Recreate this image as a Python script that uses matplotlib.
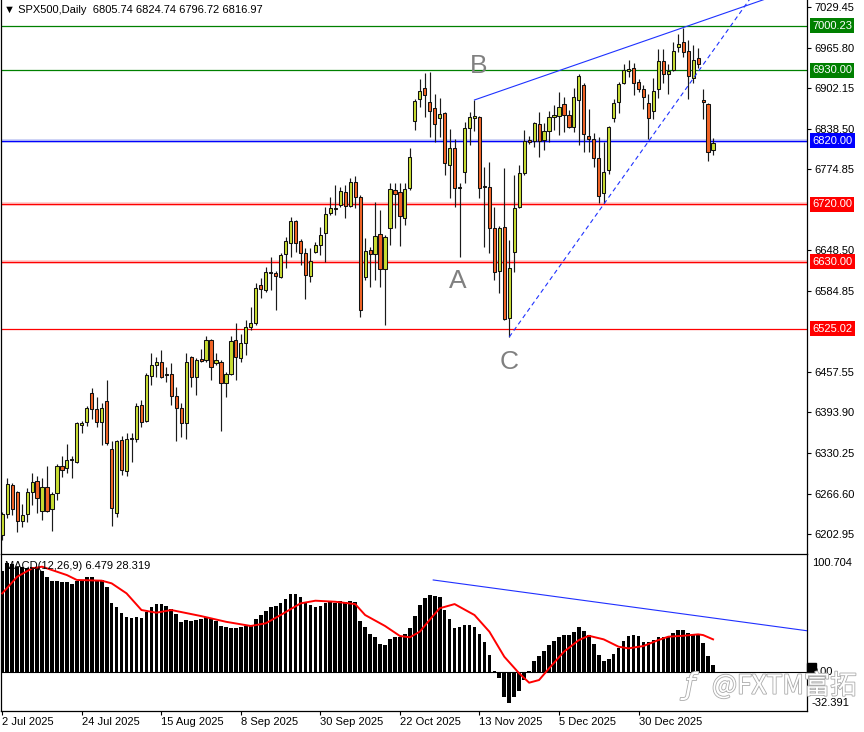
import matplotlib
matplotlib.use("Agg")
import matplotlib.pyplot as plt
import matplotlib.patheffects as pe
from matplotlib.patches import Rectangle
from matplotlib.transforms import blended_transform_factory
import numpy as np

# ---------------- data ----------------
opens = [6201.8, 6234.7, 6280.2, 6269.2, 6223.7, 6234.7, 6269.2, 6286.4, 6239.4, 6277.0,
         6242.5, 6267.6, 6309.9, 6306.8, 6319.4, 6316.2, 6374.2, 6378.9, 6424.4, 6399.3,
         6378.9, 6411.8, 6336.6, 6236.3, 6350.7, 6302.1, 6352.3, 6352.3, 6405.6, 6380.5,
         6451.0, 6468.3, 6473.0, 6452.6, 6454.1, 6419.7, 6400.9, 6377.4, 6480.8, 6449.5,
         6477.7, 6476.1, 6507.5, 6471.4, 6473.0, 6440.1, 6454.1, 6507.5, 6479.2, 6502.8,
         6527.8, 6534.1, 6593.7, 6585.8, 6614.0, 6612.5, 6606.2, 6642.3, 6659.5, 6694.0,
         6662.6, 6643.8, 6607.8, 6645.4, 6656.4, 6675.2, 6706.5, 6714.4, 6719.1, 6739.4,
         6717.5, 6755.1, 6731.6, 6606.2, 6648.5, 6642.3, 6673.6, 6618.7, 6683.0, 6742.6,
         6739.4, 6698.7, 6745.7, 6850.7, 6885.2, 6902.5, 6880.5, 6871.1, 6855.4, 6863.3,
         6781.8, 6808.4, 6745.7, 6770.8, 6839.8, 6855.4, 6857.0, 6747.3, 6747.3, 6683.0,
         6615.6, 6684.6, 6541.9, 6645.4, 6715.9, 6769.2, 6821.0, 6819.4, 6846.0, 6821.0,
         6835.1, 6857.0, 6858.6, 6877.4, 6860.1, 6841.3, 6883.7, 6907.2, 6827.2, 6822.5,
         6792.7, 6737.9, 6773.9, 6855.4, 6880.5, 6910.3, 6929.1, 6933.8, 6911.9, 6900.9,
         6879.0, 6866.4, 6900.9, 6944.8, 6924.4, 6930.7, 6966.7, 6974.6, 6960.5, 6918.1,
         6949.5, 6883.7, 6877.4, 6805.74]
highs = [6237.8, 6291.1, 6283.3, 6270.8, 6250.4, 6275.5, 6299.0, 6294.3, 6291.1, 6309.9,
         6269.2, 6313.1, 6325.6, 6344.4, 6325.6, 6378.9, 6380.5, 6404.0, 6432.2, 6418.1,
         6408.7, 6444.8, 6349.1, 6350.7, 6357.0, 6361.7, 6361.7, 6408.7, 6413.4, 6455.7,
         6487.1, 6480.8, 6491.8, 6465.1, 6471.4, 6433.8, 6408.7, 6487.1, 6482.4, 6479.2,
         6493.3, 6513.7, 6509.0, 6487.1, 6476.1, 6457.3, 6513.7, 6534.1, 6516.9, 6538.8,
         6559.2, 6596.8, 6604.6, 6621.9, 6637.6, 6615.6, 6643.8, 6668.9, 6700.3, 6695.6,
         6665.8, 6651.7, 6651.7, 6661.1, 6684.6, 6715.9, 6731.6, 6750.4, 6747.3, 6750.4,
         6761.4, 6764.5, 6734.7, 6667.3, 6653.2, 6723.8, 6711.2, 6672.0, 6753.6, 6753.6,
         6753.6, 6753.6, 6808.4, 6885.2, 6916.6, 6926.0, 6927.5, 6893.1, 6886.8, 6864.8,
         6838.2, 6822.5, 6753.6, 6849.2, 6864.8, 6883.7, 6858.6, 6778.6, 6786.5, 6715.9,
         6686.1, 6777.1, 6664.2, 6766.1, 6781.8, 6836.6, 6827.2, 6849.2, 6864.8, 6847.6,
         6866.4, 6875.8, 6896.2, 6888.4, 6868.0, 6902.5, 6924.4, 6910.3, 6869.5, 6831.9,
         6825.6, 6817.8, 6842.9, 6885.2, 6911.9, 6940.1, 6946.4, 6941.7, 6916.6, 6907.2,
         6893.1, 6918.1, 6963.6, 6963.6, 6940.1, 6974.6, 6987.1, 6996.5, 6977.7, 6969.9,
         6965.2, 6900.9, 6879.0, 6824.74]
lows = [6193.9, 6228.4, 6233.1, 6206.5, 6214.3, 6222.2, 6248.8, 6236.3, 6225.3, 6237.8,
        6208.1, 6256.7, 6292.7, 6299.0, 6291.1, 6314.6, 6361.7, 6372.6, 6383.6, 6371.1,
        6342.9, 6342.9, 6215.9, 6230.0, 6295.8, 6294.3, 6316.2, 6347.6, 6371.1, 6378.9,
        6436.9, 6449.5, 6447.9, 6441.6, 6405.6, 6349.1, 6355.4, 6352.3, 6433.8, 6421.2,
        6473.0, 6473.0, 6444.8, 6468.3, 6364.8, 6418.1, 6452.6, 6444.8, 6473.0, 6483.9,
        6523.1, 6531.0, 6573.3, 6582.7, 6585.8, 6554.5, 6604.6, 6620.3, 6637.6, 6645.4,
        6625.0, 6571.7, 6598.4, 6643.8, 6640.7, 6629.7, 6703.4, 6703.4, 6715.9, 6698.7,
        6715.9, 6714.4, 6543.5, 6601.5, 6590.5, 6601.5, 6590.5, 6531.0, 6656.4, 6683.0,
        6654.8, 6687.7, 6742.6, 6836.6, 6872.7, 6857.0, 6825.6, 6817.8, 6825.6, 6766.1,
        6730.0, 6715.9, 6637.6, 6753.6, 6813.1, 6835.1, 6730.0, 6653.2, 6643.8, 6601.5,
        6581.1, 6538.8, 6512.2, 6614.0, 6714.4, 6766.1, 6814.7, 6810.0, 6794.3, 6805.3,
        6817.8, 6836.6, 6828.8, 6833.5, 6839.8, 6833.5, 6813.1, 6802.1, 6802.1, 6778.6,
        6722.2, 6722.2, 6767.7, 6849.2, 6863.3, 6908.7, 6919.7, 6891.5, 6896.2, 6869.5,
        6822.5, 6853.9, 6886.8, 6910.3, 6893.1, 6929.1, 6958.9, 6951.1, 6885.2, 6910.3,
        6933.8, 6853.9, 6788.0, 6796.72]
closes = [6234.7, 6281.7, 6242.5, 6223.7, 6233.1, 6269.2, 6284.9, 6259.8, 6277.0, 6239.4,
          6266.1, 6309.9, 6303.7, 6319.4, 6320.9, 6377.4, 6377.4, 6400.9, 6399.3, 6378.9,
          6400.9, 6346.0, 6244.1, 6349.1, 6303.7, 6352.3, 6353.8, 6404.0, 6378.9, 6452.6,
          6468.3, 6473.0, 6449.5, 6454.1, 6419.7, 6400.9, 6377.4, 6473.0, 6449.5, 6476.1,
          6474.5, 6507.5, 6465.1, 6476.1, 6440.1, 6454.1, 6505.9, 6480.8, 6502.8, 6527.8,
          6534.1, 6589.0, 6587.4, 6614.0, 6612.5, 6607.8, 6640.7, 6662.6, 6694.0, 6659.5,
          6643.8, 6609.3, 6631.3, 6656.4, 6672.0, 6705.0, 6714.4, 6712.8, 6741.0, 6717.5,
          6755.1, 6731.6, 6554.5, 6647.0, 6642.3, 6670.5, 6618.7, 6668.9, 6744.1, 6736.3,
          6701.8, 6744.1, 6794.3, 6882.1, 6897.8, 6891.5, 6866.4, 6846.0, 6861.7, 6784.9,
          6808.4, 6745.7, 6747.3, 6839.8, 6857.0, 6858.6, 6745.7, 6748.8, 6683.0, 6614.0,
          6683.0, 6540.4, 6620.3, 6714.4, 6769.2, 6819.4, 6817.8, 6847.6, 6819.4, 6835.1,
          6857.0, 6860.1, 6872.7, 6860.1, 6841.3, 6888.4, 6921.3, 6830.4, 6822.5, 6792.7,
          6733.2, 6770.8, 6841.3, 6879.0, 6908.7, 6930.7, 6932.2, 6910.3, 6900.9, 6888.4,
          6855.4, 6897.8, 6944.8, 6924.4, 6929.1, 6960.5, 6971.4, 6958.9, 6921.3, 6946.4,
          6940.1, 6880.5, 6802.1, 6816.97]

macd_main = [87.0, 93.6, 93.0, 90.7, 90.1, 89.3, 90.7, 90.7, 87.0, 81.6,
             78.7, 78.7, 77.3, 77.3, 75.8, 78.7, 79.3, 81.6, 81.6, 79.3,
             79.3, 73.0, 59.8, 56.3, 50.7, 47.7, 46.4, 47.2, 46.4, 52.0,
             56.3, 58.6, 58.6, 56.9, 54.1, 50.1, 43.4, 44.9, 44.3, 44.9,
             45.5, 47.2, 46.4, 44.3, 39.8, 38.6, 37.8, 37.8, 38.6, 39.8,
             40.6, 45.5, 49.2, 52.9, 55.8, 56.9, 59.2, 62.7, 67.2, 67.2,
             64.4, 60.6, 57.8, 56.3, 56.9, 59.2, 60.1, 59.8, 61.5, 60.1,
             61.5, 60.1, 44.0, 38.6, 32.9, 30.6, 24.3, 23.4, 28.3, 30.6,
             30.6, 32.6, 37.8, 48.3, 57.8, 63.5, 66.2, 65.5, 64.4, 53.5,
             45.5, 37.8, 38.6, 40.6, 40.6, 39.2, 32.9, 26.3, 14.9, 1.4,
             -5.2, -20.9, -26.6, -20.9, -15.8, -6.6, 1.4, 10.0, 14.0, 18.5,
             23.4, 27.1, 30.6, 32.0, 32.0, 34.9, 39.2, 35.5, 32.0, 24.3,
             14.9, 10.0, 11.4, 15.7, 20.6, 27.1, 31.2, 32.0, 31.4, 26.3,
             26.3, 27.7, 30.1, 30.6, 30.6, 33.5, 36.3, 36.3, 33.5, 32.9,
             32.0, 24.9, 14.0, 6.479]

signal_bar = [0, 3, 6, 8, 13, 15, 20, 22, 25, 28, 31, 34, 40, 45, 50, 53, 56, 60, 63, 67,
              71, 73, 77, 80, 82, 84, 86, 88, 91, 95, 98, 101, 104, 106, 108, 110, 113,
              116, 118, 121, 124, 126, 129, 132, 134, 137, 140, 141, 143]
signal_val = [67.8, 82.1, 89.3, 90.7, 83.5, 79.3, 78.7, 76.4, 67.8, 53.5, 51.2, 53.5, 48.3,
              43.4, 39.8, 42.1, 49.2, 59.2, 61.5, 60.6, 58.6, 49.2, 39.8, 31.2, 30.1, 34.9,
              45.2, 55.0, 58.6, 49.2, 34.9, 13.4, -0.9, -8.9, -6.6, 3.4, 17.7, 27.7, 31.4,
              28.3, 22.0, 20.6, 22.6, 27.7, 30.6, 31.4, 32.6, 32.0, 28.319]

date_bars = [0, 16, 32, 48, 64, 80, 96, 112, 128]
date_labels = ["2 Jul 2025", "24 Jul 2025", "15 Aug 2025", "8 Sep 2025", "30 Sep 2025",
               "22 Oct 2025", "13 Nov 2025", "5 Dec 2025", "30 Dec 2025"]

price_ticks = [7029.45, 6965.80, 6902.15, 6838.50, 6774.85, 6648.50, 6584.85,
               6457.55, 6393.90, 6330.25, 6266.60, 6202.95]

level_prices = [7000.23, 6930.00, 6820.00, 6720.00, 6630.00, 6525.02]
level_colors = ["#008000", "#008000", "#0000ff", "#ff0000", "#ff0000", "#ff0000"]

# trend lines (bar index, price)
b_line = [(95, 6883.7), (141.4, 7009.1)]
c_line = [(102, 6512.2), (147.4, 7009.1)]
macd_line = [(86.7, 79.3), (161.9, 35.7)]

# ---------------- figure ----------------
W, H = 864, 732
fig = plt.figure(figsize=(W / 100, H / 100), dpi=100)
FONT = ["Liberation Sans", "DejaVu Sans"]
plt.rcParams["font.family"] = FONT


def px_axes(x0, y0, x1, y1):
    return fig.add_axes([x0 / W, 1 - y1 / H, (x1 - x0) / W, (y1 - y0) / H])


ax = px_axes(1, 0, 807, 554)
ax2 = px_axes(1, 554, 807, 711)
XMIN, XMAX = -0.26, 161.9
for a in (ax, ax2):
    a.set_xlim(XMIN, XMAX)
    a.set_facecolor("white")
ax.set_ylim(6172.0, 7040.4)
ax2.set_ylim(-33.2, 101.6)

# spines
for a in (ax, ax2):
    for s in a.spines.values():
        s.set_color("black")
        s.set_linewidth(0.9)
ax.spines["top"].set_visible(False)
ax.spines["bottom"].set_visible(False)

# horizontal levels
halo = {"#0000ff": "#c4caf4", "#ff0000": "#ffc8c8"}
for p, c in zip(level_prices, level_colors):
    if p in (6820.00, 6720.00, 6630.00):
        ax.axhline(p, color=halo[c], lw=2.6, zorder=1)
        ax.axhline(p, color=c, lw=0.9, zorder=1.5)
    else:
        ax.axhline(p, color=c, lw=0.9, zorder=1.5)

# candles
idx = np.arange(len(opens))
o = np.array(opens); h = np.array(highs); l = np.array(lows); c = np.array(closes)
bull = c >= o
body_cols = np.where(bull, "#c8dc32", "#f26426")
ax.vlines(idx, l, h, color="#1a1a1a", lw=0.85, zorder=3)
ax.bar(idx, np.maximum(np.abs(c - o), 1.2), bottom=np.minimum(o, c), width=0.64,
       color=body_cols, edgecolor="#111111", linewidth=0.75, zorder=4)

# trend lines
(bx0, by0), (bx1, by1) = b_line
bs = (by1 - by0) / (bx1 - bx0)
ax.plot([bx0, 165], [by0, by0 + bs * (165 - bx0)], color="#1e32ff", lw=0.8, zorder=5)
(cx0, cy0), (cx1, cy1) = c_line
cs = (cy1 - cy0) / (cx1 - cx0)
ax.plot([cx0, 165], [cy0, cy0 + cs * (165 - cx0)], color="#1e32ff", lw=0.8,
        linestyle=(0, (4, 3)), zorder=5)

# A B C labels
for lab, bx, by in (("B", 95.9, 6937.0), ("A", 91.7, 6600.0), ("C", 102.0, 6473.0)):
    ax.text(bx, by, lab, fontsize=19, color="#808080", ha="center", va="center", zorder=6)

# price axis
ax.yaxis.tick_right()
ax.set_yticks(price_ticks)
ax.set_yticklabels([f"{v:.2f}" for v in price_ticks])
ax.tick_params(axis="y", length=3, width=0.8, pad=2, labelsize=8, colors="black")
ax.tick_params(axis="x", bottom=False, labelbottom=False)

ytr = ax.get_yaxis_transform()
for p, col in zip(level_prices, level_colors):
    ax.text(1.0062, p, f"{p:.2f}", transform=ytr, ha="left", va="center", fontsize=8,
            color="white", clip_on=False, zorder=10,
            bbox=dict(boxstyle="square,pad=0.22", fc=col, ec="none"))

# MACD panel
ax2.bar(idx, macd_main, width=0.74, color="black", zorder=2)
ax2.axhline(0, color="black", lw=0.8, zorder=1)
ax2.plot(signal_bar, signal_val, color="#ff0000", lw=1.4, zorder=3)
(mx0, my0), (mx1, my1) = macd_line
ax2.plot([mx0, mx1], [my0, my1], color="#2030ff", lw=0.8, zorder=3)
ax2.set_yticks([])
ax2.set_xticks(date_bars)
ax2.set_xticklabels(date_labels, fontsize=8)
for t in ax2.get_xticklabels():
    t.set_horizontalalignment("left")
ax2.tick_params(axis="x", direction="out", length=3, width=0.8, pad=1.5)

tr2 = blended_transform_factory(ax2.transAxes, ax2.transData)
ax2.add_patch(Rectangle((1.0, -2.3), 0.011, 10.3, transform=tr2, color="black",
                        clip_on=False, zorder=5))
for v, txt in ((94.3, "100.704"), (0.0, "0.00"), (-26.4, "-32.391")):
    ax2.text(1.0062, v, txt, transform=tr2, ha="left", va="center", fontsize=8,
             color="black", clip_on=False, zorder=6)

# header texts
fig.text(4 / W, 1 - 10 / H, "\u25bc SPX500,Daily  6805.74 6824.74 6796.72 6816.97",
         fontsize=8, ha="left", va="center", family=FONT)
fig.text(5 / W, 1 - 566 / H, "MACD(12,26,9) 6.479 28.319", fontsize=8, ha="left",
         va="center", family=FONT, zorder=5)

# watermark
wm_fx = [pe.withStroke(linewidth=1.2, foreground="#ababab")]
fig.text(712 / W, 1 - 686 / H, "@FXTM富拓", fontsize=19, color="white",
         family=["Noto Sans CJK SC", "DejaVu Sans"], ha="left", va="center",
         path_effects=wm_fx, zorder=20)
fig.text(690 / W, 1 - 686 / H, "ƒ", fontsize=21, color="white", style="italic",
         family=["DejaVu Sans"], ha="center", va="center", path_effects=wm_fx, zorder=20)

fig.savefig("out.png", dpi=100)
